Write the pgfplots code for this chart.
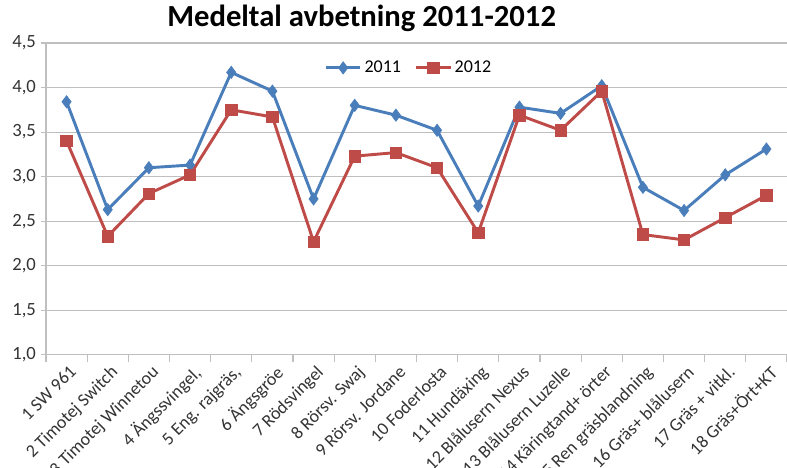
\documentclass[border=0pt]{standalone}
\usepackage{pgfplots}
\pgfplotsset{compat=1.18}
\usepackage{fontspec}
\setmainfont{Carlito}
\definecolor{c2011}{HTML}{4A7EBB}
\definecolor{c2012}{HTML}{BE4B48}
\definecolor{gridgray}{HTML}{BFBFBF}

\begin{document}
\begin{tikzpicture}
\begin{axis}[name=ax,
  scale only axis,
  width=556pt, height=234pt,
  xmin=0.5, xmax=18.5,
  ymin=1, ymax=4.5,
  ytick={1,1.5,...,4.5},
  xtick={1,...,18},
  xticklabels={{1 SW 961}, {2 Timotej  Switch}, {3 Timotej  Winnetou}, {4 Ängssvingel,}, {5 Eng. rajgräs,}, {6 Ängsgröe}, {7 Rödsvingel}, {8 Rörsv.  Swaj}, {9 Rörsv. Jordane}, {10 Foderlosta}, {11 Hundäxing}, {12 Blålusern Nexus}, {13 Blålusern Luzelle}, {14 Käringtand+ örter}, {15 Ren gräsblandning}, {16 Gräs+ blålusern}, {17 Gräs + vitkl.}, {18 Gräs+Ört+KT}},
  minor xtick={0.5,1.5,...,18.5},
  major x tick style={draw=none},
  minor tick length=5pt,
  major tick length=4pt,
  tick align=outside,
  xtick pos=bottom, ytick pos=left,
  axis x line*=bottom, axis y line*=left,
  axis line style={gridgray, line width=0.8pt},
  tick style={gridgray, line width=0.8pt},
  ymajorgrids,
  major grid style={gridgray, line width=0.8pt},
  /pgf/number format/.cd, use comma, fixed, fixed zerofill, precision=1, assume math mode=true,
  /pgfplots/.cd,
  yticklabel style={font=\fontsize{14}{15}\selectfont, text=black!80},
  xticklabel style={font=\fontsize{13.5}{14}\selectfont, text=black!80, rotate=45, anchor=north east, inner sep=1pt, yshift=-2pt},
  title={Medeltal avbetning 2011-2012},
  title style={font=\fontsize{23}{25}\selectfont\bfseries, at={(0.426,1)}, anchor=base, yshift=6pt},
  legend columns=2,
  legend style={draw=none, fill=none, at={(0.49,0.96)}, anchor=north, font=\fontsize{13.5}{14}\selectfont, /tikz/every even column/.append style={column sep=8pt}},
  legend image code/.code={\draw[#1] (0pt,0pt) -- (26pt,0pt); \path[#1, only marks] plot coordinates {(13pt,0pt)};},
]
\addplot[color=c2011, line width=2.2pt, mark=diamond*, mark size=4.6pt, mark options={solid, line width=0.5pt}]
  coordinates {(1,3.84) (2,2.63) (3,3.10) (4,3.13) (5,4.17) (6,3.96) (7,2.75) (8,3.80) (9,3.69)
               (10,3.52) (11,2.67) (12,3.78) (13,3.71) (14,4.02) (15,2.88) (16,2.62) (17,3.02) (18,3.31)};
\addlegendentry{2011}
\addplot[color=c2012, line width=2.2pt, mark=square*, mark size=4.3pt, mark options={solid, line width=0.5pt}]
  coordinates {(1,3.40) (2,2.33) (3,2.81) (4,3.02) (5,3.75) (6,3.67) (7,2.27) (8,3.23) (9,3.27)
               (10,3.10) (11,2.37) (12,3.69) (13,3.52) (14,3.96) (15,2.35) (16,2.29) (17,2.54) (18,2.79)};
\addlegendentry{2012}
\end{axis}
\pgfresetboundingbox
\path[use as bounding box] ([xshift=-34.5pt,yshift=-84.75pt]ax.south west) rectangle ([yshift=32.25pt]ax.north east);
\end{tikzpicture}
\end{document}
